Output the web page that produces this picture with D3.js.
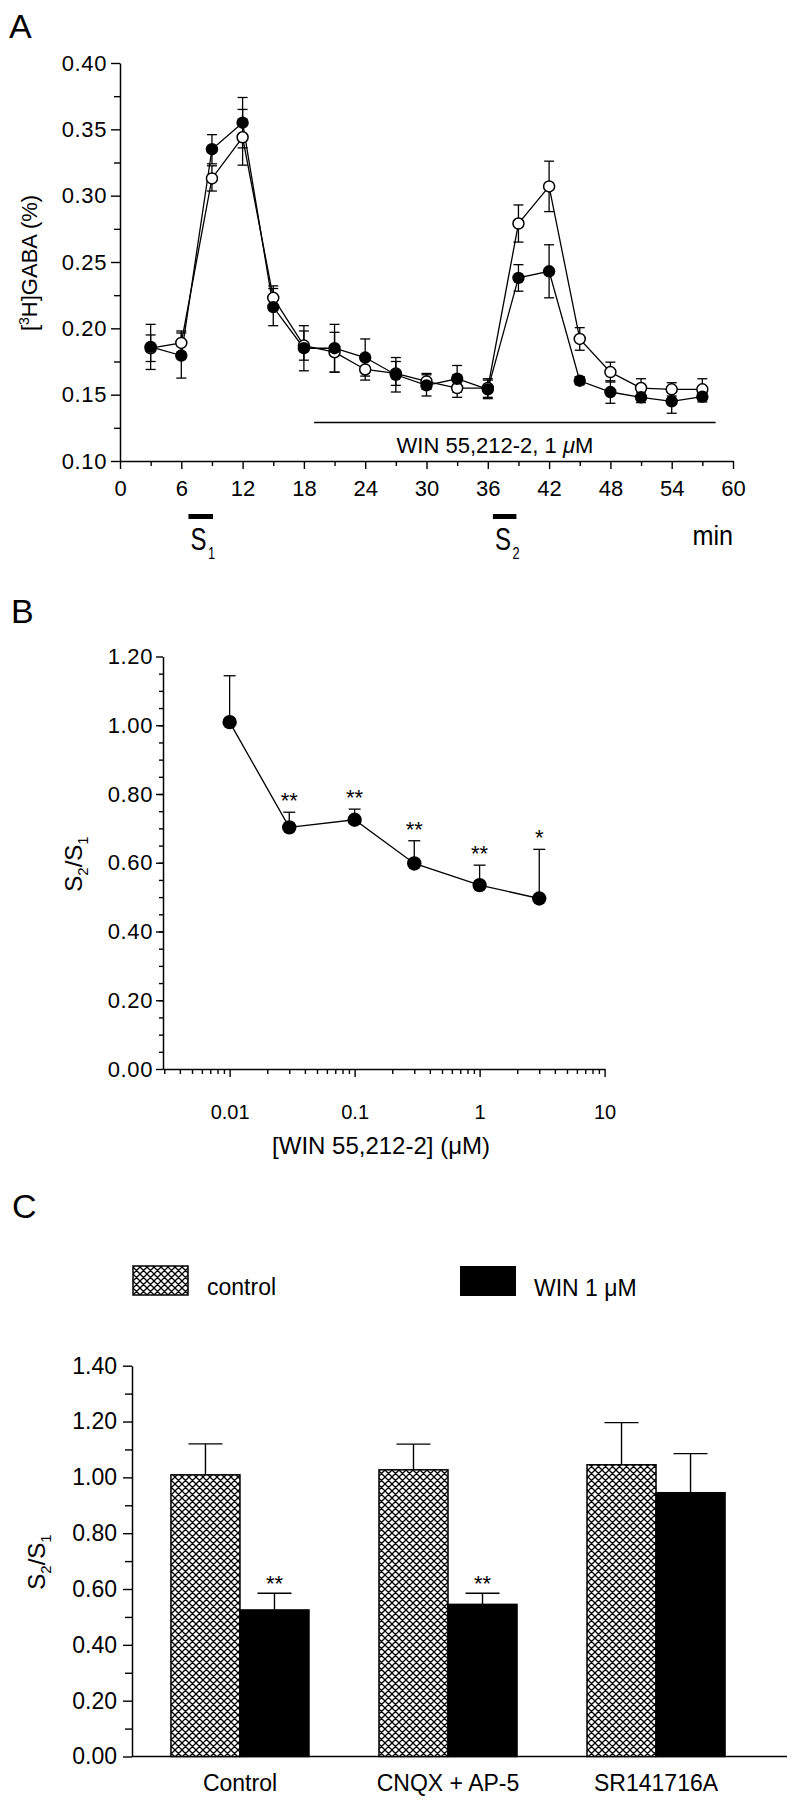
<!DOCTYPE html>
<html><head><meta charset="utf-8">
<script src="https://cdn.jsdelivr.net/npm/d3@7"></script>
<style>
body{margin:0;background:#fff;}
svg text{font-family:"Liberation Sans",Arial,Helvetica,sans-serif;fill:#000;}
</style></head><body>
<svg id="chart" width="796" height="1800"></svg>
<script>
// ---------- Panel A data ----------
const timeA = [3,6,9,12,15,18,21,24,27,30,33,36,39,42,45,48,51,54,57];
const winA = [0.186,0.1795,0.335,0.355,0.216,0.185,0.185,0.178,0.165,0.157,0.162,0.154,0.238,0.243,0.1605,0.152,0.148,0.145,0.1485];
const winAErr = [0.017,0.017,0.011,0.019,0.014,0.017,0.018,0.014,0.013,0.008,0.010,0.007,0.010,0.020,0.003,0.0085,0.004,0.009,0.004];
const ctrlA = [0.185,0.189,0.313,0.344,0.223,0.187,0.182,0.169,0.166,0.160,0.155,0.155,0.279,0.307,0.192,0.167,0.155,0.154,0.154];
const ctrlAErr = [0.010,0.009,0.0095,0.021,0.009,0.011,0.015,0.008,0.009,0.006,0.007,0.007,0.014,0.019,0.0085,0.0075,0.007,0.005,0.008];
const yTicksA = [0.10,0.15,0.20,0.25,0.30,0.35,0.40];
const xTicksA = [0,6,12,18,24,30,36,42,48,54,60];
const stimuli = [{sub:"1",start:6.7,end:9.1},{sub:"2",start:36.5,end:38.8}];
const winPeriod = {start:19, end:58.3, level:0.129, label:"WIN 55,212-2, 1 "};

// ---------- Panel B data ----------
const concB = [0.01,0.03,0.1,0.3,1,3];
const ratioB = [1.009,0.703,0.725,0.598,0.535,0.496];
const errB = [0.135,0.044,0.031,0.066,0.058,0.143];
const sigB = ["","**","**","**","**","*"];
const yTicksB = [0,0.2,0.4,0.6,0.8,1.0,1.2];
const xTicksB = [0.01,0.1,1,10];

// ---------- Panel C data ----------
const groupsC = ["Control","CNQX + AP-5","SR141716A"];
const controlC = [1.009,1.027,1.045];
const controlCErr = [0.111,0.092,0.151];
const winC = [0.525,0.545,0.945];
const winCErr = [0.06,0.04,0.14];
const sigC = ["**","**",""];
const yTicksC = [0,0.2,0.4,0.6,0.8,1.0,1.2,1.4];
const legendC = ["control","WIN 1 μM"];

const svg = d3.select("#chart");
svg.append("rect").attr("width",796).attr("height",1800).attr("fill","#fff");
const defs = svg.append("defs");
const pat = defs.append("pattern").attr("id","hatch").attr("patternUnits","userSpaceOnUse").attr("width",7).attr("height",7);
pat.append("rect").attr("width",7).attr("height",7).attr("fill","#fff");
pat.append("path").attr("d","M0,0L7,7M7,0L0,7M-1,1L1,-1M6,8L8,6M-1,6L1,8M6,-1L8,1").attr("stroke","#000").attr("stroke-width",1.3);

function styleAxis(g, fs){
  g.select(".domain").attr("stroke","#000").attr("stroke-width",1.5);
  g.selectAll(".tick line").attr("stroke","#000").attr("stroke-width",1.4);
  g.selectAll("text").attr("font-size",fs).attr("fill","#000");
}
function panelLetter(t,x,y){ svg.append("text").attr("x",x).attr("y",y).attr("font-size",34).text(t); }

// ================= Panel A =================
panelLetter("A",9,38);
const xA = d3.scaleLinear().domain([0,60]).range([120,733]);
const yA = d3.scaleLinear().domain([0.10,0.40]).range([461,63]);
const gA = svg.append("g");
const minorYA = d3.range(0.125,0.40,0.05);
gA.append("g").attr("transform",`translate(${xA(0)},0)`)
  .call(d3.axisLeft(yA).tickValues(minorYA).tickSize(6).tickSizeOuter(0).tickFormat(""))
  .call(g=>{styleAxis(g,22); g.select(".domain").remove();});
gA.append("g").attr("transform",`translate(${xA(0)},0)`)
  .call(d3.axisLeft(yA).tickValues(yTicksA).tickSize(9).tickSizeOuter(0).tickPadding(4).tickFormat(d3.format(".2f")))
  .call(g=>{styleAxis(g,22); g.selectAll("text").attr("letter-spacing",0.6);});
const minorXA = d3.range(3,60,6);
gA.append("g").attr("transform",`translate(0,${yA(0.10)})`)
  .call(d3.axisBottom(xA).tickValues(minorXA).tickSize(5).tickSizeOuter(0).tickFormat(""))
  .call(g=>{styleAxis(g,22); g.select(".domain").remove();});
gA.append("g").attr("transform",`translate(0,${yA(0.10)})`)
  .call(d3.axisBottom(xA).tickValues(xTicksA).tickSize(8).tickSizeOuter(0).tickPadding(11))
  .call(g=>styleAxis(g,22));

// y label
const ylA = svg.append("text").attr("transform","translate(37,263) rotate(-90)").attr("text-anchor","middle").attr("font-size",22);
ylA.append("tspan").text("[");
ylA.append("tspan").attr("font-size",14).attr("dy",-8).text("3");
ylA.append("tspan").attr("dy",8).text("H]GABA (%)");

// WIN period line + label
gA.append("line").attr("x1",xA(winPeriod.start)).attr("x2",xA(winPeriod.end))
  .attr("y1",yA(winPeriod.level)).attr("y2",yA(winPeriod.level)).attr("stroke","#000").attr("stroke-width",1.4);
const wt = gA.append("text").attr("x",xA(36.7)).attr("y",453).attr("text-anchor","middle").attr("font-size",22);
wt.append("tspan").text(winPeriod.label);
wt.append("tspan").attr("font-style","italic").text("μ");
wt.append("tspan").text("M");

// stimulation bars
stimuli.forEach(s=>{
  gA.append("rect").attr("x",xA(s.start)).attr("width",xA(s.end)-xA(s.start)).attr("y",514).attr("height",5).attr("fill","#000");
  const t = gA.append("text").attr("transform",`translate(${xA(s.start)+2},550) scale(0.75,1)`).attr("font-size",32);
  t.append("tspan").text("S");
  t.append("tspan").attr("font-size",17).attr("dy",9).attr("dx",2).text(s.sub);
});
gA.append("text").attr("transform","translate(733,545) scale(0.9,1)").attr("text-anchor","end").attr("font-size",28).text("min");

// error bars A
function errA(vals, errs){
  const g = gA.append("g").attr("stroke","#000").attr("stroke-width",1.3);
  timeA.forEach((t,i)=>{
    const x = xA(t), y1 = yA(vals[i]-errs[i]), y2 = yA(vals[i]+errs[i]);
    g.append("line").attr("x1",x).attr("x2",x).attr("y1",y1).attr("y2",y2);
    g.append("line").attr("x1",x-5).attr("x2",x+5).attr("y1",y1).attr("y2",y1);
    g.append("line").attr("x1",x-5).attr("x2",x+5).attr("y1",y2).attr("y2",y2);
  });
}
errA(ctrlA, ctrlAErr);
errA(winA, winAErr);
const lineA = d3.line().x(d=>xA(d[0])).y(d=>yA(d[1]));
gA.append("path").attr("d",lineA(timeA.map((t,i)=>[t,ctrlA[i]]))).attr("fill","none").attr("stroke","#000").attr("stroke-width",1.3);
gA.append("path").attr("d",lineA(timeA.map((t,i)=>[t,winA[i]]))).attr("fill","none").attr("stroke","#000").attr("stroke-width",1.3);
gA.append("g").selectAll("circle").data(timeA).join("circle")
  .attr("cx",d=>xA(d)).attr("cy",(d,i)=>yA(ctrlA[i])).attr("r",5.5)
  .attr("fill","#fff").attr("stroke","#000").attr("stroke-width",1.5);
gA.append("g").selectAll("circle").data(timeA).join("circle")
  .attr("cx",d=>xA(d)).attr("cy",(d,i)=>yA(winA[i])).attr("r",6.2)
  .attr("fill","#000");

// ================= Panel B =================
panelLetter("B",11,623);
const xB = d3.scaleLog().domain([0.00293,10]).range([163,604.6]);
const yB = d3.scaleLinear().domain([0,1.2]).range([1069,656.5]);
const gB = svg.append("g");
gB.append("g").attr("transform",`translate(${xB.range()[0]},0)`)
  .call(d3.axisLeft(yB).tickValues(d3.range(0.05,1.2,0.05)).tickSize(4).tickSizeOuter(0).tickFormat(""))
  .call(g=>{styleAxis(g,22); g.select(".domain").remove();});
gB.append("g").attr("transform",`translate(${xB.range()[0]},0)`)
  .call(d3.axisLeft(yB).tickValues(yTicksB).tickSize(7).tickSizeOuter(0).tickPadding(3).tickFormat(d3.format(".2f")))
  .call(g=>{styleAxis(g,22); g.selectAll("text").attr("letter-spacing",0.6);});
const minorXB = [];
[0.001,0.01,0.1,1].forEach(dec=>{ for(let k=2;k<=9;k++){ const v=dec*k; if(v>xB.domain()[0]) minorXB.push(v);} });
gB.append("g").attr("transform",`translate(0,${yB(0)})`)
  .call(d3.axisBottom(xB).tickValues(minorXB).tickSize(5).tickSizeOuter(0).tickFormat(""))
  .call(g=>{styleAxis(g,20); g.select(".domain").remove();});
gB.append("g").attr("transform",`translate(0,${yB(0)})`)
  .call(d3.axisBottom(xB).tickValues(xTicksB).tickSize(8).tickSizeOuter(0).tickPadding(28).tickFormat(d=>String(d)))
  .call(g=>styleAxis(g,20));
const xlB = svg.append("text").attr("x",381).attr("y",1154).attr("text-anchor","middle").attr("font-size",24).text("[WIN 55,212-2] (μM)");
const ylB = svg.append("text").attr("transform","translate(82,864) rotate(-90)").attr("text-anchor","middle").attr("font-size",24);
ylB.append("tspan").text("S");
ylB.append("tspan").attr("font-size",15).attr("dy",6).text("2");
ylB.append("tspan").attr("dy",-6).text("/S");
ylB.append("tspan").attr("font-size",15).attr("dy",6).text("1");

const eb = gB.append("g").attr("stroke","#000").attr("stroke-width",1.3);
concB.forEach((c,i)=>{
  const x = xB(c), y0 = yB(ratioB[i]), y1 = yB(ratioB[i]+errB[i]);
  eb.append("line").attr("x1",x).attr("x2",x).attr("y1",y0).attr("y2",y1);
  eb.append("line").attr("x1",x-6).attr("x2",x+6).attr("y1",y1).attr("y2",y1);
});
gB.append("path").attr("d",d3.line().x((d,i)=>xB(concB[i])).y(d=>yB(d))(ratioB)).attr("fill","none").attr("stroke","#000").attr("stroke-width",1.3);
gB.append("g").selectAll("circle").data(ratioB).join("circle")
  .attr("cx",(d,i)=>xB(concB[i])).attr("cy",d=>yB(d)).attr("r",7.2).attr("fill","#000");
gB.append("g").selectAll("text").data(sigB).join("text")
  .attr("x",(d,i)=>xB(concB[i])).attr("y",(d,i)=>yB(ratioB[i]+errB[i])-4)
  .attr("text-anchor","middle").attr("font-size",22).text(d=>d);

// ================= Panel C =================
panelLetter("C",12,1218);
const xC = d3.scaleBand().domain(groupsC).range([136,760]).paddingInner(0.3365).paddingOuter(0.168);
const xSub = d3.scaleBand().domain(["control","win"]).range([0,xC.bandwidth()]);
const yC = d3.scaleLinear().domain([0,1.4]).range([1756.5,1365.7]);
const gC = svg.append("g");
gC.append("g").attr("transform","translate(132,0)")
  .call(d3.axisLeft(yC).tickValues(d3.range(0.1,1.4,0.2)).tickSize(7).tickSizeOuter(0).tickFormat(""))
  .call(g=>{styleAxis(g,23); g.select(".domain").remove();});
gC.append("g").attr("transform","translate(132,0)")
  .call(d3.axisLeft(yC).tickValues(yTicksC).tickSize(9).tickSizeOuter(0).tickPadding(6).tickFormat(d3.format(".2f")))
  .call(g=>styleAxis(g,23));
gC.append("g").attr("transform",`translate(0,${yC(0)})`)
  .call(d3.axisBottom(xC).tickSize(0).tickPadding(18))
  .call(g=>{styleAxis(g,23); g.select(".domain").remove();});
gC.append("line").attr("x1",132).attr("x2",787).attr("y1",yC(0)).attr("y2",yC(0)).attr("stroke","#000").attr("stroke-width",1.5);
const ylC = svg.append("text").attr("transform","translate(45,1562) rotate(-90)").attr("text-anchor","middle").attr("font-size",24);
ylC.append("tspan").text("S");
ylC.append("tspan").attr("font-size",15).attr("dy",6).text("2");
ylC.append("tspan").attr("dy",-6).text("/S");
ylC.append("tspan").attr("font-size",15).attr("dy",6).text("1");

const barsC = [];
groupsC.forEach((g,i)=>{
  barsC.push({g, k:"control", v:controlC[i], e:controlCErr[i], s:""});
  barsC.push({g, k:"win", v:winC[i], e:winCErr[i], s:sigC[i]});
});
const ebC = gC.append("g").attr("stroke","#000").attr("stroke-width",1.4);
barsC.forEach(b=>{
  const x = xC(b.g)+xSub(b.k)+xSub.bandwidth()/2, y0=yC(b.v), y1=yC(b.v+b.e);
  ebC.append("line").attr("x1",x).attr("x2",x).attr("y1",y0).attr("y2",y1);
  ebC.append("line").attr("x1",x-17).attr("x2",x+17).attr("y1",y1).attr("y2",y1);
});
gC.append("g").selectAll("rect").data(barsC).join("rect")
  .attr("x",d=>xC(d.g)+xSub(d.k)).attr("width",xSub.bandwidth())
  .attr("y",d=>yC(d.v)).attr("height",d=>yC(0)-yC(d.v))
  .attr("fill",d=>d.k==="control"?"url(#hatch)":"#000").attr("stroke","#000").attr("stroke-width",1.5);
gC.append("g").selectAll("text").data(barsC.filter(d=>d.s)).join("text")
  .attr("x",d=>xC(d.g)+xSub(d.k)+xSub.bandwidth()/2).attr("y",d=>yC(d.v+d.e)-2)
  .attr("text-anchor","middle").attr("font-size",22).text(d=>d.s);

// legend
const lg = svg.append("g");
lg.append("rect").attr("x",133).attr("y",1266).attr("width",55).attr("height",29).attr("fill","url(#hatch)").attr("stroke","#000").attr("stroke-width",1.5);
lg.append("text").attr("x",207).attr("y",1295).attr("font-size",23).text(legendC[0]);
lg.append("rect").attr("x",460).attr("y",1266).attr("width",56).attr("height",30).attr("fill","#000");
lg.append("text").attr("x",534).attr("y",1296).attr("font-size",23).text(legendC[1]);
</script>
</body></html>
